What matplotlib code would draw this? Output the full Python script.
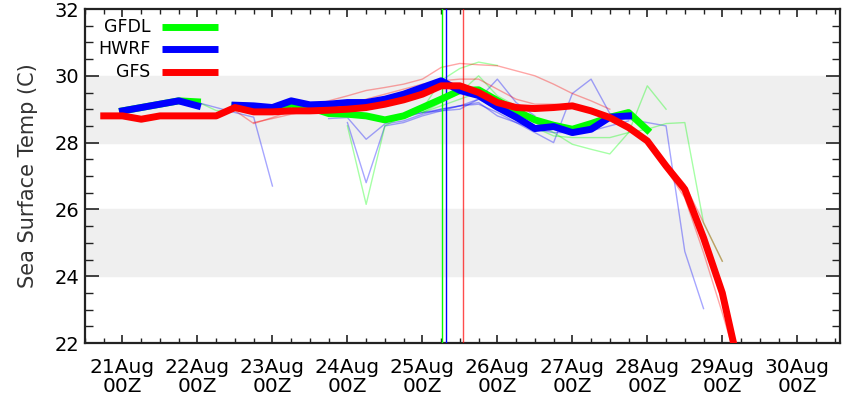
import numpy as np
import matplotlib
matplotlib.use("Agg")
import matplotlib.pyplot as plt
from matplotlib.ticker import MultipleLocator

# eixo temporal: dias de agosto, passos de 6 horas
passo = 0.25

# corridas actuais (linhas grossas)
gfs_inicio = 20.75
gfs_sst = [28.8, 28.8, 28.7, 28.8, 28.8, 28.8, 28.8, 29.05, 28.92, 28.92, 28.95,
           28.95, 28.97, 29.0, 29.05, 29.15, 29.28, 29.45, 29.7, 29.7, 29.5, 29.2,
           29.05, 29.02, 29.05, 29.1, 28.95, 28.75, 28.45, 28.05, 27.3, 26.6,
           25.15, 23.5, 21.0]

hwrf_inicio = 21.0
hwrf_sst = [28.95, 29.05, 29.15, 29.25, 29.1, np.nan, 29.12, 29.1, 29.05, 29.25,
            29.13, 29.15, 29.2, 29.2, 29.3, 29.45, 29.65, 29.85, 29.56, 29.41,
            29.06, 28.76, 28.42, 28.48, 28.3, 28.4, 28.76, 28.8]

gfdl_inicio = 21.0
gfdl_sst = [28.95, 29.05, 29.15, 29.25, 29.22, np.nan, 29.1, 29.08, 29.0, 29.15,
            29.05, 28.87, 28.85, 28.8, 28.68, 28.8, 29.05, 29.3, 29.56, 29.58,
            29.26, 28.95, 28.68, 28.52, 28.4, 28.57, 28.76, 28.9, 28.38]

# corridas anteriores (linhas finas): (cor, inicio, valores)
corridas_antigas = [
    ("blue", 22.0, [29.2, 29.05, 28.9, 28.76, 26.7]),
    ("blue", 23.75, [28.72, 28.75, 28.1, 28.56, 28.65, 28.85, 29.0, 29.1, 29.3,
                     29.0, 28.7, 28.5, 28.4]),
    ("blue", 24.0, [28.6, 26.8, 28.5, 28.6, 28.8, 28.95, 29.0, 29.3, 29.9, 29.2,
                    28.8]),
    ("blue", 24.5, [28.7, 28.75, 28.9, 28.95, 29.1, 29.2, 28.8, 28.6, 28.3, 28.0,
                    29.47, 29.9, 28.87, 28.7, 28.6, 28.5, 24.74, 23.03]),
    ("blue", 24.75, [28.8, 28.9, 29.0, 29.1, 29.15, 28.9, 28.6, 28.4, 28.3, 28.3,
                     28.35, 28.5, 28.65]),
    ("lime", 22.0, [29.22, 28.96, 28.95]),
    ("lime", 24.0, [28.5, 26.15, 28.5, 28.8, 29.0, 29.86, 30.22, 30.41, 30.31]),
    ("lime", 25.0, [28.9, 29.2, 29.5, 30.0, 29.4, 29.1, 28.6, 28.3, 27.95, 27.8,
                    27.66, 28.3, 29.7, 29.0]),
    ("lime", 25.0, [28.9, 29.1, 29.3, 29.5, 29.2, 28.9, 28.45, 28.2, 28.15, 28.15,
                    28.15, 28.3, 28.4, 28.57, 28.6, 25.6, 24.45]),
    ("red", 22.5, [28.96, 28.57, 28.75, 28.95, 29.1, 29.25, 29.4, 29.56, 29.65,
                   29.75, 29.9, 30.25, 30.37, 30.33, 30.3, 30.15, 30.0, 29.75,
                   29.47, 29.25, 29.0]),
    ("red", 22.75, [28.6, 28.72, 28.85, 28.95, 29.05, 29.15, 29.3, 29.45, 29.6,
                    29.75, 29.85, 29.9, 29.9, 29.6, 29.3, 29.15, 29.15, 29.1,
                    29.0, 28.8, 28.5, 28.0, 27.2, 26.35, 24.7, 22.9, 21.0]),
    ("red", 26.0, [29.3, 29.1, 29.05, 29.1, 29.15, 29.0, 28.8, 28.5, 28.1, 27.4,
                   26.75, 25.6, 24.45]),
]

# hora de inicio de cada modelo (linhas verticais)
inicio_modelos = {"lime": 25.26, "blue": 25.31, "red": 25.54}

dias = list(range(21, 31))
rotulos_x = [f"{d}Aug\n00Z" for d in dias]


def tempos(inicio, valores):
    return inicio + passo * np.arange(len(valores))


fig = plt.figure(figsize=(8.44, 3.99), dpi=100)
ax = fig.add_axes([85 / 844, 56 / 399, 755 / 844, 334 / 399])

ax.axhspan(28, 30, color="#efefef", zorder=0)
ax.axhspan(24, 26, color="#efefef", zorder=0)

for cor, inicio, valores in corridas_antigas:
    ax.plot(tempos(inicio, valores), valores, color=cor, lw=1, alpha=0.35, zorder=2)

for cor, x in inicio_modelos.items():
    ax.axvline(x, color=cor, lw=1, alpha=0.7 if cor == "red" else 1, zorder=3)

ax.plot(tempos(gfdl_inicio, gfdl_sst), gfdl_sst, color="lime", lw=5,
        solid_joinstyle="round", zorder=4)
ax.plot(tempos(hwrf_inicio, hwrf_sst), hwrf_sst, color="blue", lw=5,
        solid_joinstyle="round", zorder=5)
ax.plot(tempos(gfs_inicio, gfs_sst), gfs_sst, color="red", lw=5,
        solid_joinstyle="round", zorder=6)

# legenda desenhada a mao, como no original
for i, (nome, cor) in enumerate([("GFDL", "lime"), ("HWRF", "blue"), ("GFS", "red")]):
    yl = 0.946 - i * 0.067
    ax.text(0.087, yl, nome, transform=ax.transAxes, ha="right", va="center",
            fontsize=12.5, color="black", zorder=7)
    ax.plot([0.102, 0.176], [yl, yl], transform=ax.transAxes, color=cor, lw=5,
            solid_capstyle="butt", zorder=7)

ax.set_xlim(20.5, 30.57)
ax.set_ylim(22, 32)
ax.set_xticks(dias)
ax.set_xticklabels(rotulos_x, fontsize=14.5, linespacing=0.95)
ax.xaxis.set_minor_locator(MultipleLocator(0.25))
ax.set_yticks(range(22, 33, 2))
ax.yaxis.set_minor_locator(MultipleLocator(0.5))
ax.tick_params(axis="y", labelsize=14)
ax.tick_params(which="both", direction="in", top=True, right=True, color="#222222")
ax.tick_params(axis="x", which="major", length=6, width=1.2, pad=11)
ax.tick_params(axis="x", which="minor", length=3.5, width=1)
ax.tick_params(axis="y", which="major", length=10, width=1.2, pad=4)
ax.tick_params(axis="y", which="minor", length=6, width=1)
for s in ax.spines.values():
    s.set_linewidth(1.6)
    s.set_color("#222222")

ax.set_ylabel("Sea Surface Temp (C)", fontsize=15, color="#333333", labelpad=12)

fig.savefig("out.png", dpi=100)
